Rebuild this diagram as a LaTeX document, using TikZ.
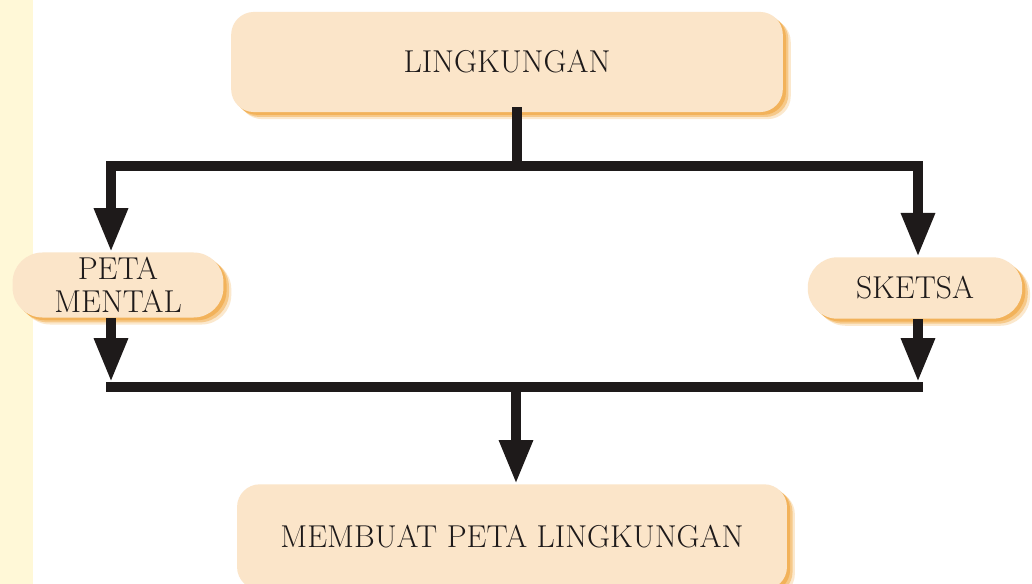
\documentclass[tikz,border=0pt]{standalone}
\usetikzlibrary{arrows.meta,shadows}
\definecolor{ink}{HTML}{1E1A1A}
\definecolor{peach}{HTML}{FBE5C9}
\definecolor{amber}{HTML}{F0A43A}
\definecolor{cream}{HTML}{FFF8D7}

\begin{document}
\begin{tikzpicture}[x=0.02cm,y=-0.02cm,line join=miter,
  box/.style={fill=peach,rounded corners=13pt,align=center,inner sep=0pt,
    font=\fontsize{18}{18.5}\selectfont,text=ink,
    drop shadow={shadow xshift=4.5pt,shadow yshift=-4pt,fill=amber,opacity=.25},
    drop shadow={shadow xshift=3.2pt,shadow yshift=-2.8pt,fill=amber,opacity=.45},
    drop shadow={shadow xshift=1.8pt,shadow yshift=-1.6pt,fill=amber,opacity=.6}},
  link/.style={draw=ink,line width=5.7pt,line cap=rect},
  flow/.style={draw=ink,line width=5.7pt,line cap=butt,-{Triangle[width=18pt,length=25pt]}}]
  \useasboundingbox (0,0) rectangle (1032,584);
  \fill[white] (0,0) rectangle (1032,584);
  \fill[cream] (0,0) rectangle (33,584);

  \node[box,minimum width=314pt,minimum height=57pt] (lingk) at (507,62) {LINGKUNGAN};
  \node[box,minimum width=120pt,minimum height=37pt,rounded corners=17pt] (peta) at (118,285) {PETA\\MENTAL};
  \node[box,minimum width=122pt,minimum height=35pt,rounded corners=17pt] (sketsa) at (915,288) {SKETSA};
  \node[box,minimum width=313pt,minimum height=60pt] (buat) at (512,537) {MEMBUAT PETA LINGKUNGAN};

  \coordinate (split) at (517,166);
  \coordinate (tl) at (111,166);
  \coordinate (tr) at (918,166);
  \coordinate (bl) at (111,387);
  \coordinate (br) at (918,387);
  \coordinate (join) at (516,387);

  \draw[link] (split |- lingk.south) -- (split);
  \draw[link] (tl) -- (tr);
  \draw[flow] (tl) -- (tl |- peta.north);
  \draw[flow] (tr) -- (tr |- sketsa.north);

  \draw[flow,shorten >=2.8pt] (tl |- peta.south) -- (bl);
  \draw[flow,shorten >=2.8pt] (tr |- sketsa.south) -- (br);
  \draw[link] (bl) -- (br);
  \draw[flow] (join) -- (join |- buat.north);
\end{tikzpicture}
\end{document}
